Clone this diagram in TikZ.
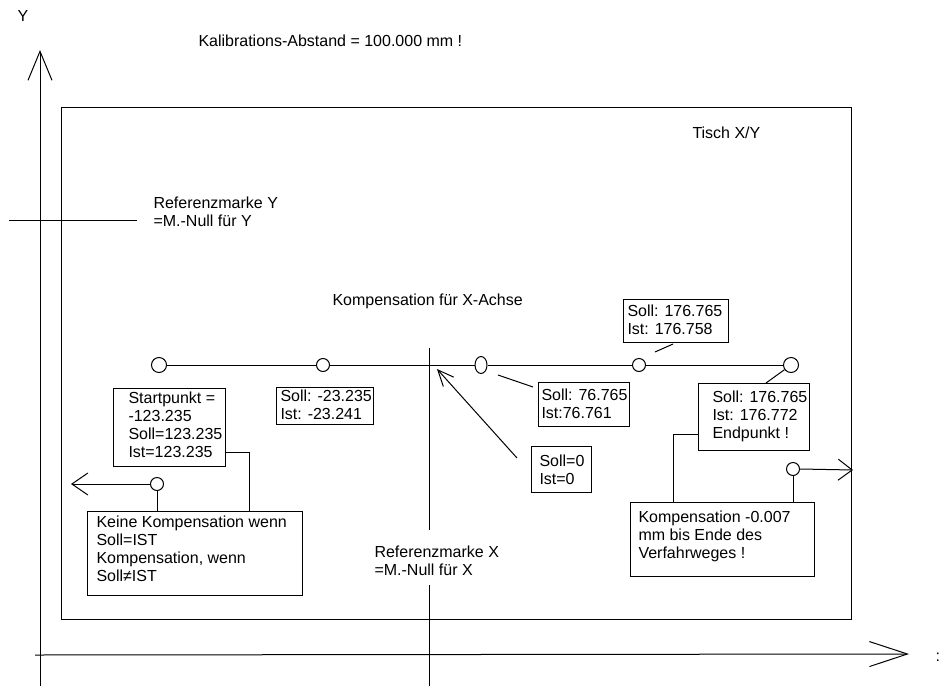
\documentclass[tikz,border=0pt]{standalone}
\usepackage{fontspec}
\setmainfont{Liberation Sans}
\usetikzlibrary{arrows.meta,shapes.geometric}
\begin{document}
\begin{tikzpicture}[x=1pt,y=-1pt,line width=1pt,
  txt/.style={inner sep=0pt, anchor=base west, align=left, font=\fontsize{16}{18}\selectfont},
  box/.style={draw, inner sep=0pt, anchor=north west},
  pt/.style={draw, circle, fill=white, inner sep=0pt, minimum size=#1},
  barb/.style 2 args={-{Straight Barb[length=#1,width=#2]}}]
\fill[white] (0,0) rectangle (940,686);
\useasboundingbox (0,0) rectangle (940,686);

% table
\node[box, minimum width=790pt, minimum height=512pt] (tisch) at (61,107) {};

% axes and reference lines
\coordinate (yb) at (40,686);
\coordinate (yt) at (40,50);
\coordinate (xl) at (35,655);
\coordinate (xr) at (909,654);
\coordinate (ryl) at (9,220);
\coordinate (ryr) at (137,220);
\coordinate (rxa) at (429,348);
\coordinate (rxb) at (429,530);
\coordinate (rxc) at (429,585);
\coordinate (rxd) at (429,686);
\draw[barb={29pt}{24pt}] (yb) -- (yt);
\draw[barb={38pt}{25pt}] (xl) -- (xr);
\draw (ryl) -- (ryr);
\draw (rxa) -- (rxb);
\draw (rxc) -- (rxd);

% free texts (multi-line nodes: base = baseline of last line)
\node[txt] (ylab) at (17,21) {Y};
\node[txt] (xlab) at (935,661) {:};
\node[txt] (kal) at (198,46) {Kalibrations-Abstand = 100.000 mm !};
\node[txt] (tischlab) at (692,138) {Tisch X/Y};
\node[txt] (refy) at (153,226) {Referenzmarke Y\\=M.-Null für Y};
\node[txt] (kompx) at (332,305) {Kompensation für X-Achse};
\node[txt] (refx) at (374,575) {Referenzmarke X\\=M.-Null für X};

% boxes
\node[box, minimum width=112pt, minimum height=78pt] (b1) at (113,388) {};
\node[txt] (t1) at (128,457) {Startpunkt =\\-123.235\\Soll=123.235\\Ist=123.235};
\node[box, minimum width=97pt, minimum height=37pt] (b2) at (276,387) {};
\node[txt] (t2) at (280,419) {Soll: -23.235\\Ist: -23.241};
\node[box, minimum width=91pt, minimum height=44pt] (b3) at (538,382) {};
\node[txt] (t3) at (541,418) {Soll: 76.765\\Ist:76.761};
\node[box, minimum width=60pt, minimum height=46pt] (b4) at (531,446) {};
\node[txt] (t4) at (539,484) {Soll=0\\Ist=0};
\node[box, minimum width=105pt, minimum height=43pt] (b5) at (623,299) {};
\node[txt] (t5) at (627,334) {Soll: 176.765\\Ist: 176.758};
\node[box, minimum width=111pt, minimum height=67pt] (b6) at (698,383) {};
\node[txt] (t6) at (712,438) {Soll: 176.765\\Ist: 176.772\\Endpunkt !};
\node[box, minimum width=215pt, minimum height=84pt] (b7) at (87,511) {};
\node[txt] (t7) at (96,581) {Keine Kompensation wenn\\Soll=IST\\Kompensation, wenn\\Soll≠IST};
\node[box, minimum width=184pt, minimum height=74pt] (b8) at (630,502) {};
\node[txt] (t8) at (638,558) {Kompensation -0.007\\mm bis Ende des\\Verfahrweges !};

% measuring points
\node[pt=15pt] (c1) at (159,365) {};
\node[pt=13pt] (c2) at (323,365) {};
\node[draw, ellipse, fill=white, inner sep=0pt, minimum width=12pt, minimum height=17pt] (c3) at (481,365) {};
\node[pt=13pt] (c4) at (639,365) {};
\node[pt=15pt] (c5) at (791,365) {};
\node[pt=13pt] (c6) at (157,484) {};
\node[pt=13pt] (c7) at (793,469) {};

\draw (c1) -- (c2) -- (c3) -- (c4) -- (c5);

% connectors
\coordinate (k1) at (249,452);
\draw (b1.east |- k1) -- (k1) -- (k1 |- b7.north);
\draw (c6) -- (c6 |- b7.north);
\coordinate (la) at (71,484);
\draw[barb={16pt}{22pt}] (c6) -- (la);

\coordinate (k2) at (673,434);
\draw (b6.west |- k2) -- (k2) -- (k2 |- b8.north);
\draw (c7) -- (c7 |- b8.north);
\coordinate (ra) at (853,470);
\draw[barb={14pt}{21pt}] (c7.east) -- (ra);

\coordinate (s0a) at (517,458);
\coordinate (s0b) at (437,369);
\draw[barb={16pt}{14pt}] (s0a) -- (s0b);

\coordinate (e5) at (766,383);
\draw (c5) -- (e5);
\coordinate (l4a) at (655,352);
\coordinate (l4b) at (673,344);
\draw (l4a) -- (l4b);
\coordinate (l3a) at (498,375);
\coordinate (l3b) at (533,387);
\draw (l3a) -- (l3b);
\end{tikzpicture}
\end{document}
